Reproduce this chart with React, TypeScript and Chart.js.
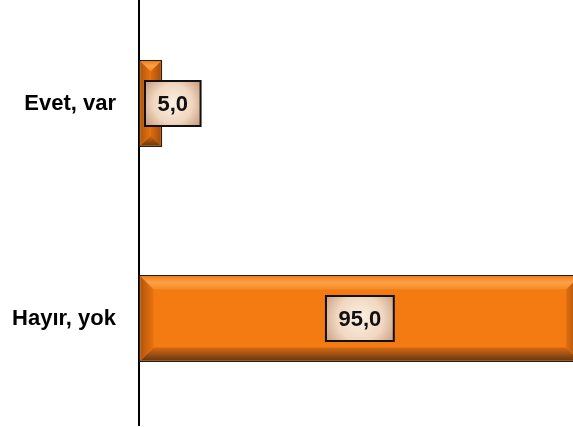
import React, { useEffect, useRef } from "react";
import { Chart, registerables } from "chart.js";

Chart.register(...registerables);

const categories: string[] = ["Evet, var", "Hayır, yok"];
const values: number[] = [5.0, 95.0];
const axisMin = 0;
const axisMax = 100;

const fmt = (v: number) => v.toFixed(1).replace(".", ",");

const bevelPlugin = {
  id: "bevelBars",
  afterDatasetsDraw(chart: any) {
    const ctx: CanvasRenderingContext2D = chart.ctx;
    const meta = chart.getDatasetMeta(0);
    meta.data.forEach((el: any, i: number) => {
      const p = el.getProps(["x", "y", "base", "height"], true);
      const bw = 1.5;
      const l = Math.min(p.x, p.base) + bw;
      const r = Math.max(p.x, p.base) - bw;
      const t = p.y - p.height / 2 + bw;
      const b = p.y + p.height / 2 - bw;
      const w = r - l;
      const h = b - t;
      const bv = Math.min(13, w / 2, h / 2);
      ctx.save();
      // top
      let g = ctx.createLinearGradient(0, t, 0, t + bv);
      g.addColorStop(0, "#F67F18");
      g.addColorStop(0.45, "#FCA046");
      g.addColorStop(1, "#F58A26");
      ctx.fillStyle = g;
      ctx.beginPath();
      ctx.moveTo(l, t);
      ctx.lineTo(r, t);
      ctx.lineTo(r - bv, t + bv);
      ctx.lineTo(l + bv, t + bv);
      ctx.closePath();
      ctx.fill();
      // bottom
      g = ctx.createLinearGradient(0, b - bv, 0, b);
      g.addColorStop(0, "#D56A12");
      g.addColorStop(1, "#6A3710");
      ctx.fillStyle = g;
      ctx.beginPath();
      ctx.moveTo(l, b);
      ctx.lineTo(r, b);
      ctx.lineTo(r - bv, b - bv);
      ctx.lineTo(l + bv, b - bv);
      ctx.closePath();
      ctx.fill();
      // left
      g = ctx.createLinearGradient(l, 0, l + bv, 0);
      g.addColorStop(0, "#B4570C");
      g.addColorStop(1, "#E8720F");
      ctx.fillStyle = g;
      ctx.beginPath();
      ctx.moveTo(l, t);
      ctx.lineTo(l + bv, t + bv);
      ctx.lineTo(l + bv, b - bv);
      ctx.lineTo(l, b);
      ctx.closePath();
      ctx.fill();
      // right
      g = ctx.createLinearGradient(r - bv, 0, r, 0);
      g.addColorStop(0, "#DD6C10");
      g.addColorStop(1, "#A5500C");
      ctx.fillStyle = g;
      ctx.beginPath();
      ctx.moveTo(r, t);
      ctx.lineTo(r - bv, t + bv);
      ctx.lineTo(r - bv, b - bv);
      ctx.lineTo(r, b);
      ctx.closePath();
      ctx.fill();

      // label box
      const text = fmt(values[i]);
      ctx.font = "bold 22px 'Liberation Sans', Arial, sans-serif";
      const tw = ctx.measureText(text).width;
      const bwid = tw + 25;
      const bh = 45;
      const base = Math.min(p.x, p.base);
      const cx = (p.x + p.base) / 2;
      let bx = cx - bwid / 2;
      if (bx < base + 6) bx = base + 6;
      const by = p.y - bh / 2;
      const rg = ctx.createRadialGradient(bx + bwid / 2, by + bh / 2, 2, bx + bwid / 2, by + bh / 2, bwid * 0.6);
      rg.addColorStop(0, "#FCEEE0");
      rg.addColorStop(0.55, "#F0D7C0");
      rg.addColorStop(1, "#C9A081");
      ctx.fillStyle = rg;
      ctx.fillRect(bx, by, bwid, bh);
      ctx.lineWidth = 2;
      ctx.strokeStyle = "#111111";
      ctx.strokeRect(bx, by, bwid, bh);
      ctx.fillStyle = "#111111";
      ctx.textAlign = "center";
      ctx.textBaseline = "middle";
      ctx.fillText(text, bx + bwid / 2, by + bh / 2 + 1);
      ctx.restore();
    });
  },
};

export default function App() {
  const ref = useRef<HTMLCanvasElement | null>(null);
  useEffect(() => {
    if (!ref.current) return;
    const chart = new Chart(ref.current, {
      type: "bar",
      data: {
        labels: categories,
        datasets: [
          {
            data: values,
            backgroundColor: "#F47A12",
            borderColor: "#2A1E14",
            borderWidth: 1.5,
            borderSkipped: false,
            categoryPercentage: 1,
            barPercentage: 0.405,
          },
        ],
      },
      options: {
        indexAxis: "y",
        responsive: false,
        maintainAspectRatio: false,
        animation: false,
        devicePixelRatio: 1,
        layout: { padding: 0 },
        plugins: {
          legend: { display: false },
          tooltip: { enabled: false },
          title: { display: false },
        },
        scales: {
          x: {
            display: false,
            min: axisMin,
            max: axisMax,
          },
          y: {
            grid: { display: false, drawTicks: false },
            border: { display: true, color: "#000000", width: 2 },
            ticks: {
              color: "#000000",
              padding: 23,
              font: { family: "'Liberation Sans', Arial, sans-serif", size: 22, weight: "bold" },
            },
            afterFit: (scale: any) => {
              scale.width = 139;
              scale.paddingTop = 0;
              scale.paddingBottom = 0;
            },
          },
        },
      },
      plugins: [bevelPlugin],
    });
    return () => chart.destroy();
  }, []);
  return (
    <div
      style={{
        position: "fixed",
        left: 0,
        top: 0,
        width: 573,
        height: 427,
        overflow: "hidden",
        background: "#ffffff",
      }}
    >
      <canvas
        ref={ref}
        width={604}
        height={430}
        style={{ position: "absolute", left: 0, top: -4, width: 604, height: 430 }}
      />
    </div>
  );
}
